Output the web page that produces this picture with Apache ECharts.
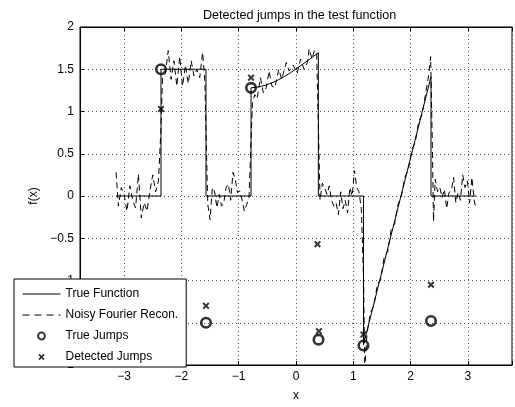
<!DOCTYPE html>
<html>
<head>
<meta charset="utf-8">
<script src="https://cdn.jsdelivr.net/npm/echarts@6/dist/echarts.min.js"></script>
<style>
  html, body { margin: 0; padding: 0; background: #fff; }
  #chart { width: 515px; height: 407px; }
</style>
</head>
<body>
<div id="chart"></div>
<script>
// true test function (piecewise)
var trueFunction = [
  [-3.14, 0], [-2.356, 0], [-2.356, 1.5], [-1.571, 1.5], [-1.571, 0], [-0.785, 0],
  [-0.785, 1.28], [-0.7, 1.287], [-0.6, 1.299], [-0.5, 1.318], [-0.4, 1.345], [-0.3, 1.377],
  [-0.2, 1.415], [-0.1, 1.457], [0, 1.503], [0.1, 1.551], [0.2, 1.60], [0.3, 1.65], [0.39, 1.695],
  [0.39, 0], [1.178, 0], [1.178, -1.76], [2.356, 1.41], [2.356, 0], [3.14, 0]
];

// noisy fourier reconstruction (dashed)
var noisyRecon = [
  [-3.14, 0.28], [-3.10, -0.12], [-3.05, 0.10], [-3.00, 0.02], [-2.95, -0.18], [-2.90, 0.12],
  [-2.85, -0.05], [-2.80, -0.14], [-2.75, 0.26], [-2.70, -0.26], [-2.65, -0.08], [-2.60, -0.18],
  [-2.55, 0.06], [-2.50, 0.25], [-2.45, 0.05], [-2.40, 0.18], [-2.36, 0.75],
  [-2.33, 1.40], [-2.28, 1.45], [-2.23, 1.72], [-2.18, 1.38], [-2.13, 1.60], [-2.08, 1.30],
  [-2.03, 1.65], [-1.98, 1.30], [-1.93, 1.55], [-1.88, 1.33], [-1.83, 1.60], [-1.78, 1.42],
  [-1.73, 1.50], [-1.68, 1.40], [-1.63, 1.70], [-1.59, 1.35], [-1.57, 0.75],
  [-1.54, -0.10], [-1.50, -0.28], [-1.46, 0.10], [-1.42, 0.05], [-1.38, -0.14], [-1.34, 0.02],
  [-1.30, -0.12], [-1.26, -0.08], [-1.22, 0.10], [-1.18, 0.14], [-1.14, -0.05], [-1.10, 0.28],
  [-1.06, 0.20], [-1.02, 0.04], [-0.98, 0.06], [-0.94, -0.05], [-0.90, -0.18], [-0.86, -0.10],
  [-0.82, -0.02], [-0.785, 0.65],
  [-0.76, 1.10], [-0.72, 1.20], [-0.68, 1.15], [-0.62, 1.40], [-0.57, 1.22], [-0.52, 1.28],
  [-0.47, 1.48], [-0.42, 1.30], [-0.37, 1.28], [-0.30, 1.50], [-0.25, 1.38], [-0.17, 1.58],
  [-0.12, 1.48], [-0.05, 1.55], [0.02, 1.45], [0.08, 1.62], [0.14, 1.50], [0.20, 1.58],
  [0.23, 1.74], [0.28, 1.62], [0.32, 1.72], [0.36, 1.70], [0.39, 0.85],
  [0.42, -0.05], [0.46, 0.15], [0.50, 0.10], [0.54, 0.02], [0.58, 0.12], [0.62, -0.05],
  [0.66, -0.12], [0.70, -0.08], [0.74, -0.22], [0.78, 0.05], [0.82, -0.15], [0.86, -0.05],
  [0.90, -0.20], [0.94, 0.10], [0.98, 0.00], [1.02, 0.30], [1.06, 0.10], [1.10, 0.05],
  [1.14, -0.15], [1.18, -1.00], [1.20, -2.05],
  [1.24, -1.62], [1.30, -1.38], [1.36, -1.30], [1.42, -1.05], [1.48, -0.98], [1.54, -0.72],
  [1.60, -0.66], [1.66, -0.40], [1.72, -0.33], [1.78, -0.10], [1.84, 0.00], [1.90, 0.22],
  [1.96, 0.31], [2.02, 0.55], [2.08, 0.63], [2.14, 0.88], [2.20, 0.96], [2.26, 1.20],
  [2.32, 1.45], [2.35, 1.65], [2.38, 0.60], [2.40, -0.30],
  [2.43, 0.20], [2.47, 0.05], [2.51, 0.10], [2.55, -0.02], [2.59, 0.08], [2.63, -0.15],
  [2.67, 0.04], [2.71, 0.06], [2.75, 0.22], [2.79, -0.08], [2.83, 0.04], [2.87, -0.05],
  [2.91, 0.25], [2.95, 0.10], [2.99, 0.18], [3.03, -0.08], [3.07, 0.22], [3.11, -0.05],
  [3.14, -0.15]
];

var trueJumps = [
  [-2.356, 1.50], [-1.571, -1.50], [-0.785, 1.28], [0.393, -1.70], [1.178, -1.77], [2.356, -1.48]
];

var detectedJumps = [
  [-2.356, 1.03], [-1.571, -1.30], [-0.785, 1.40], [0.375, -0.57], [0.40, -1.60],
  [1.178, -1.64], [2.356, -1.05]
];

var xTicks = [-3, -2, -1, 0, 1, 2, 3];
var seriesNames = ['True Function', 'Noisy Fourier Recon.', 'True Jumps', 'Detected Jumps'];

var font = 'Liberation Sans, Arial, Helvetica, sans-serif';
// bold "x" marker, padded inside a 10x10 box
var crossPath = 'path://M0,0 M10,10 M1.5,2.9 L2.9,1.5 L5,3.6 L7.1,1.5 L8.5,2.9 L6.4,5 L8.5,7.1 L7.1,8.5 L5,6.4 L2.9,8.5 L1.5,7.1 L3.6,5 Z';
var ringPath = 'path://M0,0 M10,10 M5,1.2 A3.8,3.8 0 1 1 4.99,1.2 Z';

var chart = echarts.init(document.getElementById('chart'));
var option = {
  animation: false,
  backgroundColor: '#fff',
  textStyle: { fontFamily: font },
  title: {
    text: 'Detected jumps in the test function',
    left: 198,
    top: 4,
    textStyle: { fontSize: 12.6, fontWeight: 'normal', color: '#000', fontFamily: font }
  },
  grid: {
    left: 80, top: 27, width: 437, height: 346,
    show: true, borderColor: '#000', borderWidth: 1, backgroundColor: 'transparent'
  },
  legend: {
    orient: 'vertical',
    left: 14, top: 279,
    padding: [9, 8, 4, 8],
    itemWidth: 38, itemHeight: 9, itemGap: 9,
    backgroundColor: '#fff',
    borderColor: '#000', borderWidth: 1, borderRadius: 0,
    textStyle: { fontSize: 12, color: '#000', fontFamily: font },
    data: [
      { name: seriesNames[0], itemStyle: { color: 'rgba(0,0,0,0)', borderWidth: 0 },
        lineStyle: { width: 1 } },
      { name: seriesNames[1], itemStyle: { color: 'rgba(0,0,0,0)', borderWidth: 0 },
        lineStyle: { width: 1, type: [7, 5] } },
      { name: seriesNames[2], icon: ringPath },
      { name: seriesNames[3], icon: crossPath }
    ]
  },
  xAxis: [{
    type: 'value', min: -3.77, max: 3.77, splitNumber: 7,
    name: 'x', nameLocation: 'middle', nameGap: 25,
    nameTextStyle: { fontSize: 12, color: '#000' },
    axisLine: { onZero: false, lineStyle: { color: '#000', width: 1 } },
    axisTick: { inside: true, length: 4, lineStyle: { color: '#000' } },
    axisLabel: {
      fontSize: 12, color: '#000', margin: 6,
      formatter: function (v) {
        if (xTicks.indexOf(Math.round(v * 1000) / 1000) < 0) return '';
        return String(v).replace('-', '\u2212');
      }
    },
    splitLine: { show: true, lineStyle: { color: '#555', width: 1, type: [1, 3] } }
  }, {
    type: 'value', min: -3.77, max: 3.77, splitNumber: 7, position: 'top',
    axisLine: { onZero: false, lineStyle: { color: '#000', width: 1 } },
    axisTick: { inside: true, length: 4, lineStyle: { color: '#000' } },
    axisLabel: { show: false },
    splitLine: { show: false }
  }],
  yAxis: {
    type: 'value', min: -2, max: 2, interval: 0.5,
    name: 'f(x)', nameLocation: 'middle', nameGap: 40, nameRotate: 90,
    nameTextStyle: { fontSize: 12, color: '#000' },
    axisLine: { onZero: false, lineStyle: { color: '#000', width: 1 } },
    axisTick: { inside: true, length: 4, lineStyle: { color: '#000' } },
    axisLabel: {
      fontSize: 12, color: '#000', margin: 6,
      formatter: function (v) { return String(v).replace('-', '\u2212'); }
    },
    splitLine: { show: true, lineStyle: { color: '#555', width: 1, type: [1, 3] } }
  },
  series: [
    {
      name: seriesNames[0], type: 'line', data: trueFunction,
      symbol: 'none', clip: true,
      lineStyle: { color: '#000', width: 1 },
      itemStyle: { color: '#000' }
    },
    {
      name: seriesNames[1], type: 'line', data: noisyRecon,
      symbol: 'none', clip: true,
      lineStyle: { color: '#000', width: 1, type: [6, 4] },
      itemStyle: { color: '#000' }
    },
    {
      name: seriesNames[2], type: 'scatter', data: trueJumps,
      symbol: 'circle', symbolSize: 9.5,
      itemStyle: { color: 'rgba(0,0,0,0)', borderColor: '#000', borderWidth: 2.6 }
    },
    {
      name: seriesNames[3], type: 'scatter', data: detectedJumps,
      symbol: crossPath, symbolSize: 10,
      itemStyle: { color: '#000' }
    }
  ]
};
chart.setOption(option);
</script>
</body>
</html>
